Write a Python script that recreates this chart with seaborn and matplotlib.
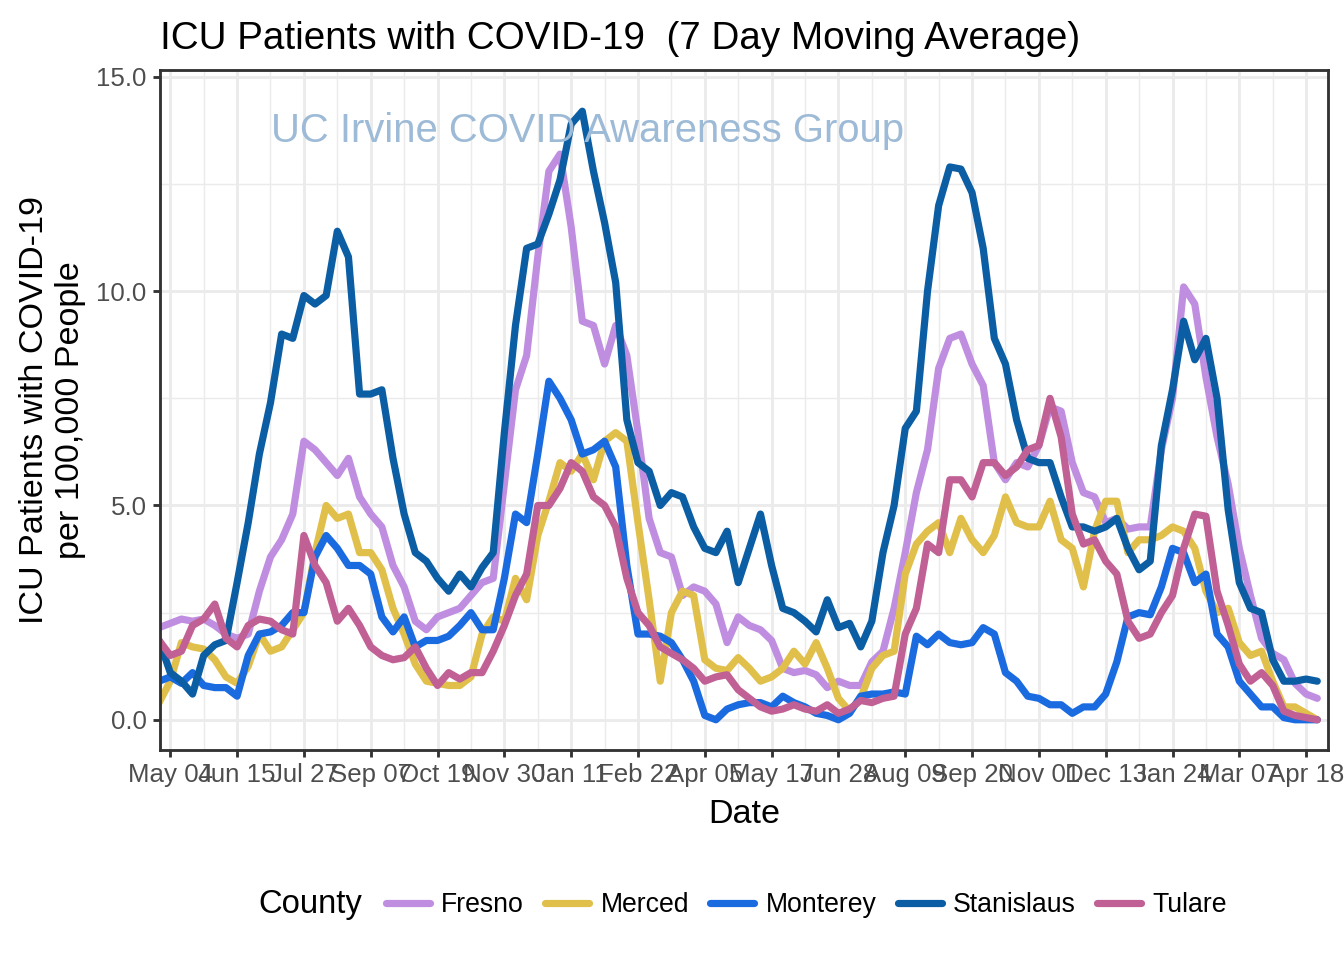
import pandas as pd
import numpy as np
import matplotlib
matplotlib.use('Agg')
import matplotlib.pyplot as plt
import matplotlib.dates as mdates
from matplotlib.lines import Line2D
import seaborn as sns

# weekly readings (Mondays) from 2020-04-27 to 2022-04-25
dates = pd.date_range('2020-04-27', periods=105, freq='7D')

fresno = [2.15, 2.25, 2.35, 2.3, 2.35, 2.2, 2.0, 1.9, 2.0, 3.0, 3.8, 4.2, 4.8, 6.5, 6.3, 6.0, 5.7, 6.1, 5.2,
          4.8, 4.5, 3.6, 3.1, 2.3, 2.1, 2.4, 2.5, 2.6, 2.9, 3.2, 3.3, 5.5, 7.7, 8.5, 10.8, 12.8, 13.2, 11.5,
          9.3, 9.2, 8.3, 9.2, 8.5, 6.7, 4.7, 3.9, 3.8, 2.9, 3.1, 3.0, 2.7, 1.8, 2.4, 2.2, 2.1, 1.85, 1.2,
          1.1, 1.15, 1.05, 0.75, 0.9, 0.8, 0.8, 1.35, 1.6, 2.6, 3.9, 5.3, 6.3, 8.2, 8.9, 9.0, 8.3, 7.8,
          6.0, 5.6, 6.0, 5.9, 6.4, 7.3, 7.2, 6.0, 5.3, 5.2, 4.6, 4.7, 4.45, 4.5, 4.5, 6.3, 7.5,
          10.1, 9.7, 8.0, 6.6, 5.5, 4.0, 2.9, 1.9, 1.55, 1.4, 0.85, 0.6, 0.5]

merced = [0.4, 0.9, 1.8, 1.7, 1.65, 1.4, 1.0, 0.85, 1.25, 2.0, 1.6, 1.7, 2.1, 2.5, 3.9, 5.0, 4.7, 4.8, 3.9,
          3.9, 3.5, 2.6, 2.0, 1.3, 0.9, 0.85, 0.8, 0.8, 1.0, 2.0, 2.4, 2.3, 3.3, 2.8, 4.3, 5.1, 6.0, 5.8,
          6.2, 5.6, 6.5, 6.7, 6.5, 4.6, 2.8, 0.9, 2.5, 3.0, 2.9, 1.4, 1.2, 1.15, 1.45, 1.2, 0.9, 1.0, 1.2,
          1.6, 1.3, 1.8, 1.2, 0.5, 0.2, 0.5, 1.2, 1.5, 1.6, 3.4, 4.1, 4.4, 4.6, 3.9, 4.7, 4.2, 3.9,
          4.3, 5.2, 4.6, 4.5, 4.5, 5.1, 4.2, 4.0, 3.1, 4.4, 5.1, 5.1, 3.9, 4.2, 4.2, 4.3, 4.5,
          4.4, 4.0, 3.0, 2.5, 2.6, 1.8, 1.5, 1.6, 0.9, 0.3, 0.3, 0.15, 0.0]

monterey = [0.9, 1.0, 0.85, 1.1, 0.8, 0.75, 0.75, 0.55, 1.5, 2.0, 2.05, 2.2, 2.5, 2.5, 3.8, 4.3, 4.0, 3.6, 3.6,
            3.4, 2.4, 2.05, 2.4, 1.7, 1.85, 1.85, 1.95, 2.2, 2.5, 2.1, 2.1, 3.3, 4.8, 4.6, 6.2, 7.9, 7.5, 7.0,
            6.2, 6.3, 6.5, 5.9, 3.6, 2.0, 2.0, 1.95, 1.8, 1.4, 0.9, 0.1, 0.0, 0.25, 0.35, 0.4, 0.4, 0.3, 0.55,
            0.4, 0.3, 0.15, 0.1, 0.0, 0.15, 0.55, 0.6, 0.6, 0.65, 0.6, 1.95, 1.75, 2.0, 1.8, 1.75, 1.8, 2.15,
            2.0, 1.1, 0.9, 0.55, 0.5, 0.35, 0.35, 0.15, 0.3, 0.3, 0.6, 1.35, 2.4, 2.5, 2.45, 3.1, 4.0,
            3.9, 3.2, 3.4, 2.0, 1.7, 0.9, 0.6, 0.3, 0.3, 0.05, 0.0, 0.0, 0.0]

stanislaus = [1.85, 1.1, 0.9, 0.6, 1.5, 1.75, 1.85, 3.2, 4.6, 6.2, 7.4, 9.0, 8.9, 9.9, 9.7, 9.9, 11.4, 10.8, 7.6,
              7.6, 7.7, 6.1, 4.8, 3.9, 3.7, 3.3, 3.0, 3.4, 3.1, 3.55, 3.9, 6.7, 9.2, 11.0, 11.1, 11.8, 12.6, 13.9,
              14.2, 12.8, 11.6, 10.2, 7.0, 6.0, 5.8, 5.0, 5.3, 5.2, 4.5, 4.0, 3.9, 4.4, 3.2, 4.0, 4.8, 3.6, 2.6,
              2.5, 2.3, 2.05, 2.8, 2.15, 2.25, 1.7, 2.3, 3.9, 5.0, 6.8, 7.2, 10.0, 12.0, 12.9, 12.85, 12.3, 11.0,
              8.9, 8.3, 7.0, 6.1, 6.0, 6.0, 5.2, 4.5, 4.5, 4.4, 4.5, 4.7, 4.0, 3.5, 3.7, 6.4, 7.7,
              9.3, 8.4, 8.9, 7.5, 4.9, 3.2, 2.6, 2.5, 1.4, 0.9, 0.9, 0.95, 0.9]

tulare = [1.85, 1.5, 1.6, 2.2, 2.35, 2.7, 1.9, 1.7, 2.2, 2.35, 2.3, 2.1, 2.0, 4.3, 3.6, 3.2, 2.3, 2.6, 2.2,
          1.7, 1.5, 1.4, 1.45, 1.7, 1.2, 0.8, 1.1, 0.95, 1.1, 1.1, 1.6, 2.2, 2.9, 3.4, 5.0, 5.0, 5.4, 6.0,
          5.8, 5.2, 5.0, 4.5, 3.3, 2.5, 2.2, 1.7, 1.55, 1.4, 1.2, 0.9, 1.0, 1.05, 0.7, 0.5, 0.3, 0.2, 0.25,
          0.35, 0.25, 0.2, 0.35, 0.15, 0.25, 0.45, 0.4, 0.5, 0.55, 2.0, 2.6, 4.1, 3.9, 5.6, 5.6, 5.2, 6.0,
          6.0, 5.7, 5.9, 6.3, 6.4, 7.5, 6.6, 4.8, 4.1, 4.2, 3.7, 3.4, 2.3, 1.9, 2.0, 2.5, 2.9,
          4.0, 4.8, 4.75, 3.0, 2.2, 1.3, 0.9, 1.1, 0.8, 0.2, 0.1, 0.05, 0.0]

counties = ['Fresno', 'Merced', 'Monterey', 'Stanislaus', 'Tulare']
colors = ['#C08EE0', '#E0C04A', '#1A6AE0', '#0B5EA4', '#C06094']

df = pd.concat([pd.DataFrame({'Date': dates, 'ICU': vals, 'County': name})
                for name, vals in zip(counties, [fresno, merced, monterey, stanislaus, tulare])])

sns.set_theme(style='white')
plt.rcParams['font.family'] = ['Liberation Sans', 'DejaVu Sans']
plt.rcParams['text.color'] = 'black'
plt.rcParams['axes.labelcolor'] = 'black'

fig, ax = plt.subplots(figsize=(7, 5), dpi=192)
fig.subplots_adjust(left=0.119, right=0.988, top=0.927, bottom=0.219)

sns.lineplot(data=df, x='Date', y='ICU', hue='County', palette=dict(zip(counties, colors)),
             linewidth=2.7, legend=False, ax=ax, solid_joinstyle='round')

# watermark
ax.text(pd.Timestamp('2021-01-21'), 13.74, 'UC Irvine COVID Awareness Group',
        color='#9DBAD6', fontsize=15, ha='center', va='center', zorder=5)

# axes, grid
ax.set_xlim(pd.Timestamp('2020-04-27 12:00'), pd.Timestamp('2022-05-01 16:00'))
ax.set_ylim(-0.70, 15.16)
ax.xaxis.set_major_locator(plt.FixedLocator(mdates.date2num(pd.date_range('2020-05-04', periods=18, freq='42D'))))
ax.xaxis.set_minor_locator(plt.FixedLocator(mdates.date2num(pd.date_range('2020-05-25', periods=17, freq='42D'))))
ax.xaxis.set_major_formatter(mdates.DateFormatter('%b %d'))
ax.set_yticks([0, 5, 10, 15])
ax.set_yticklabels(['0.0', '5.0', '10.0', '15.0'])
ax.set_yticks([2.5, 7.5, 12.5], minor=True)

ax.grid(which='major', color='#EBEBEB', linewidth=1.07)
ax.grid(which='minor', color='#EBEBEB', linewidth=0.53)
ax.set_axisbelow(True)
for s in ax.spines.values():
    s.set_color('#333333')
    s.set_linewidth(1.07)
ax.tick_params(which='major', length=2.75, width=1.07, color='#333333',
               labelsize=9.7, labelcolor='#4D4D4D', pad=2.2, bottom=True, left=True)
ax.tick_params(which='minor', length=0)

ax.set_xlabel('Date', fontsize=12.8, labelpad=4.5)
ax.set_ylabel('ICU Patients with COVID-19\nper 100,000 People', fontsize=12.8, labelpad=4, ha='center')
ax.set_title('ICU Patients with COVID-19  (7 Day Moving Average)', loc='left', fontsize=14.5, pad=8)

# legend at bottom with title on the left
handles = [Line2D([], [], color=c, lw=2.7) for c in colors]
fig.legend(handles, counties, loc='center', bbox_to_anchor=(0.600, 0.0573), ncol=5, frameon=False,
           fontsize=10, handlelength=1.65, handletextpad=0.42, columnspacing=0.8,
           borderaxespad=0, borderpad=0)
fig.text(258 / 1344, 0.0573, 'County', fontsize=12.3, ha='left', va='center')

plt.savefig('out.png', dpi=192)
